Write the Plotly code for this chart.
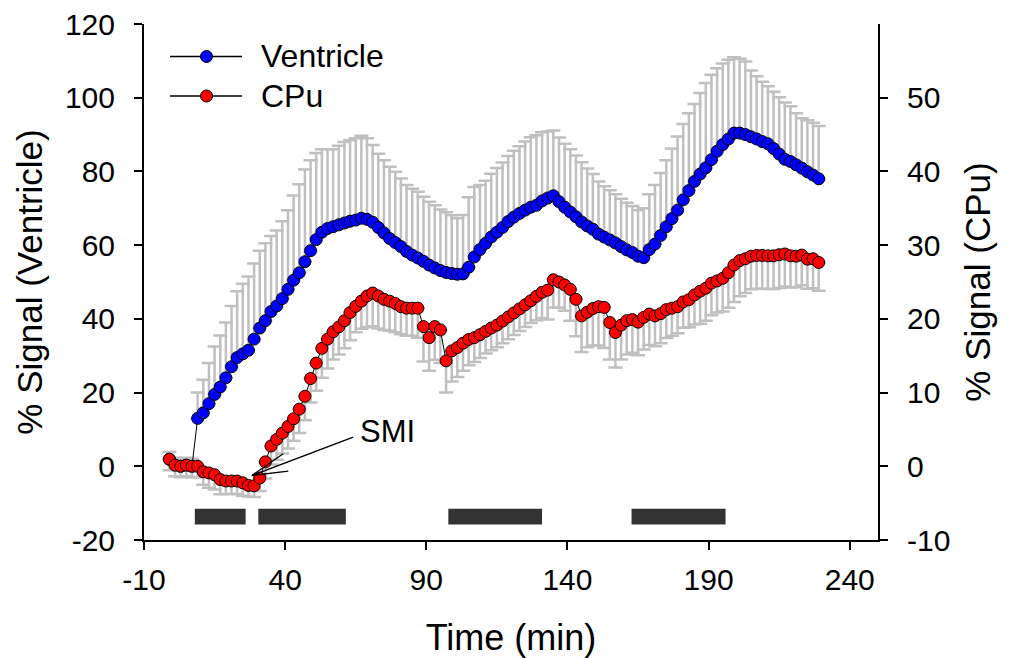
import plotly.graph_objects as go

# ---------------- data ----------------
time_min = [
    -1, 1, 3, 5, 7, 9, 11, 13, 15, 17,
    19, 21, 23, 25, 27, 29, 31, 33, 35, 37,
    39, 41, 43, 45, 47, 49, 51, 53, 55, 57,
    59, 61, 63, 65, 67, 69, 71, 73, 75, 77,
    79, 81, 83, 85, 87, 89, 91, 93, 95, 97,
    99, 101, 103, 105, 107, 109, 111, 113, 115, 117,
    119, 121, 123, 125, 127, 129, 131, 133, 135, 137,
    139, 141, 143, 145, 147, 149, 151, 153, 155, 157,
    159, 161, 163, 165, 167, 169, 171, 173, 175, 177,
    179, 181, 183, 185, 187, 189, 191, 193, 195, 197,
    199, 201, 203, 205, 207, 209, 211, 213, 215, 217,
    219, 221, 223, 225, 227, 229,
]

ventricle = [
    1.9, 0.3, 0, 0.3, 0, 13, 14.5, 17, 19.5, 21.5,
    24, 27, 29.5, 30.5, 31.5, 34.5, 37.5, 39.5, 42, 43.5,
    45.5, 48, 50.5, 52.5, 55.5, 58.5, 61.5, 63.5, 64.5, 65,
    65.5, 66, 66.5, 66.8, 67.3, 67, 66.2, 64.8, 63.3, 61.8,
    60.7, 59.6, 58.3, 57.3, 56.5, 55.6, 54.6, 53.8, 53.1, 52.6,
    52.3, 52.1, 52.2, 54, 56.8, 58.8, 60.5, 62.2, 63.5, 64.8,
    66.4, 67.6, 68.6, 69.5, 70.3, 70.8, 72, 72.8, 73.4, 71.8,
    70.3, 69, 67.7, 66.3, 65.2, 64.3, 63, 62.2, 61.4, 60.6,
    59.6, 58.7, 58, 57, 56.6, 58.8, 60.3, 62.6, 65, 67.2,
    69.5, 72.3, 74.8, 77.3, 79.3, 81, 83.2, 85.5, 87.3, 88.8,
    90.4, 90.4, 90, 89.4, 88.8, 88.1, 87.5, 86.2, 84.7, 83.3,
    82.7, 81.8, 80.9, 79.9, 79, 78,
]

ventricle_err = [
    2, 2, 2, 2, 2, 7, 9, 11, 13, 14,
    15, 16.5, 18, 19, 20, 20.5, 21, 21, 20.5, 20.5,
    21, 21.5, 23, 24, 25, 24.5, 23.5, 22.5, 21.5, 21,
    21.5, 22, 22, 22.2, 22.4, 22, 21, 20, 19.7, 19.5,
    19.2, 18.5, 18, 18, 18, 17.5, 17.2, 17, 16.6, 16.3,
    15.8, 15.2, 16, 19, 19, 17.5, 17, 17.2, 17.4, 17.6,
    17.8, 18, 18.2, 18.6, 19, 19, 18.6, 18, 17.7, 17.4,
    17.2, 17, 16.6, 16.2, 15.6, 15, 14.3, 13.8, 13.5, 13.2,
    13, 12.8, 12.6, 12.5, 13.4, 15, 16, 17, 18, 19,
    20, 20.6, 21, 21, 22, 23, 23, 22.5, 22, 21.5,
    20.6, 20.2, 19.8, 18, 17, 16.2, 15.6, 15.4, 15.4, 15.4,
    15, 14, 13.5, 14, 14.2, 14.3,
]

cpu = [
    0.95, 0.15, 0, 0.15, 0, 0, -0.75, -0.9, -1.15, -1.8,
    -2, -2, -2, -2.25, -2.6, -2.65, -1.6, 0.6, 2.75, 3.65,
    4.5, 5.4, 6.45, 7.75, 9.5, 11.9, 14, 16, 17.25, 18.25,
    18.9, 19.75, 20.85, 21.7, 22.4, 23.1, 23.5, 23.1, 22.65, 22.4,
    22.1, 21.65, 21.45, 21.45, 21.45, 18.95, 17.45, 18.95, 18.5, 14.3,
    15.65, 16.1, 16.7, 17.2, 17.45, 17.85, 18.3, 18.75, 19.15, 19.7,
    20.25, 20.8, 21.35, 21.9, 22.45, 23.05, 23.6, 23.9, 25.3, 25,
    24.6, 24, 22.65, 20.4, 20.9, 21.4, 21.65, 21.55, 19.5, 18.15,
    19.15, 19.75, 19.9, 19.55, 20.2, 20.65, 20.4, 20.7, 21.25, 21.45,
    21.65, 22.3, 22.6, 23.25, 23.75, 24.15, 24.85, 25.15, 25.5, 26.25,
    27.3, 27.9, 28.15, 28.5, 28.6, 28.6, 28.55, 28.55, 28.7, 28.8,
    28.55, 28.5, 28.65, 28.1, 28.15, 27.65,
]

cpu_err = [
    1.5, 1.5, 1.5, 1.5, 1.5, 1.5, 1.75, 2, 2, 2,
    1.75, 1.75, 1.75, 1.75, 1.5, 1.5, 1.75, 2.25, 2.5, 2.75,
    2.75, 3, 3, 3.25, 3.25, 3.25, 3.75, 4, 4, 3.75,
    3.75, 3.75, 3.75, 3.5, 3.75, 4.25, 4.5, 4.4, 4.15, 4,
    3.9, 3.75, 3.75, 3.75, 4, 4.75, 4.5, 4.5, 4.5, 4.3,
    4.15, 4, 3.75, 3.5, 3.3, 3.15, 3, 3, 3, 3,
    3, 3, 3, 3, 3, 3.25, 3.5, 4, 3.75, 3.5,
    3.5, 4.25, 5, 4.9, 4.75, 5, 5.25, 5.5, 5, 4.75,
    4.65, 4.6, 4.5, 4.5, 4.35, 4.2, 4.1, 4, 3.85, 3.75,
    3.6, 3.5, 3.75, 4, 4.4, 4.4, 4.35, 4.3, 4.5, 4.75,
    5, 4.85, 4.65, 4.5, 4.5, 4.5, 4.5, 4.5, 4.5, 4.4,
    4.3, 4.2, 4.1, 4, 4, 3.85,
]

x_ticks = [-10, 40, 90, 140, 190, 240]
x_tick_labels = ["-10", "40", "90", "140", "190", "240"]
y_left_ticks = [-20, 0, 20, 40, 60, 80, 100, 120]
y_left_labels = ["-20", "0", "20", "40", "60", "80", "100", "120"]
y_right_ticks = [-10, 0, 10, 20, 30, 40, 50]
y_right_labels = ["-10", "0", "10", "20", "30", "40", "50"]

# stimulus periods (min)
stim_start = [8, 30.5, 97.8, 162.7]
stim_end = [26, 61.5, 131, 196]

series_names = ["Ventricle", "CPu"]
series_colors = ["#0000FF", "#FF0000"]

assert len(time_min) == len(ventricle) == len(ventricle_err) == len(cpu) == len(cpu_err)

FONT = "Liberation Sans, Arial, sans-serif"
ERR_COLOR = "#C0C0C0"

fig = go.Figure()

zeros = [0] * len(time_min)

fig.add_trace(go.Scatter(
    x=time_min, y=ventricle, name=series_names[0], mode="lines+markers",
    line=dict(color="black", width=1),
    marker=dict(size=12, color=series_colors[0], line=dict(color="black", width=1)),
    error_y=dict(type="data", symmetric=False, array=ventricle_err, arrayminus=zeros,
                 color=ERR_COLOR, thickness=2.5, width=7),
    showlegend=False,
))

fig.add_trace(go.Scatter(
    x=time_min, y=cpu, name=series_names[1], mode="lines+markers", yaxis="y2",
    line=dict(color="black", width=1),
    marker=dict(size=12, color=series_colors[1], line=dict(color="black", width=1)),
    error_y=dict(type="data", symmetric=False, array=zeros, arrayminus=cpu_err,
                 color=ERR_COLOR, thickness=2.5, width=7),
    showlegend=False,
))

shapes = []
for s, e in zip(stim_start, stim_end):
    shapes.append(dict(type="rect", xref="x", yref="y", x0=s, x1=e, y0=-15.8, y1=-11.5,
                       fillcolor="#333333", line=dict(width=0), layer="above"))

# SMI arrow (tip, tail, barbs)
tip = (28.2, -2.5)
for end in [(64.1, 7.9), (39.3, 3.4), (41.1, -1.3)]:
    shapes.append(dict(type="line", xref="x", yref="y", x0=end[0], y0=end[1],
                       x1=tip[0], y1=tip[1], line=dict(color="black", width=1.3)))

# custom legend
W, H, L, B = 734.0, 516.0, 144.0, 540.0
def px(xp):
    return (xp - L) / W
def py(yp):
    return (B - yp) / H

legend_y = [56.5, 96]
annotations = []
for name, color, ly in zip(series_names, series_colors, legend_y):
    shapes.append(dict(type="line", xref="paper", yref="paper", x0=px(170), x1=px(242),
                       y0=py(ly), y1=py(ly), line=dict(color="black", width=1.3)))
    shapes.append(dict(type="circle", xref="paper", yref="paper",
                       xsizemode="pixel", ysizemode="pixel",
                       xanchor=px(206.5), yanchor=py(ly), x0=-6, x1=6, y0=-6, y1=6,
                       fillcolor=color, line=dict(color="black", width=1)))
    annotations.append(dict(text=name, xref="paper", yref="paper", x=px(259), y=py(ly - 0.5),
                            xanchor="left", yanchor="middle", showarrow=False,
                            font=dict(family=FONT, size=32, color="black")))

annotations.append(dict(text="SMI", xref="x", yref="y", x=76.2, y=9.5, xanchor="center",
                        yanchor="middle", showarrow=False,
                        font=dict(family=FONT, size=31, color="black")))

axis_common = dict(showgrid=False, zeroline=False, showline=True, linecolor="black",
                   linewidth=2, ticks="outside", ticklen=8, tickwidth=2, tickcolor="black",
                   automargin=False,
                   tickfont=dict(family=FONT, size=30, color="black"))

fig.update_layout(
    width=1013, height=658,
    margin=dict(l=144, r=135, t=24, b=118, autoexpand=False),
    paper_bgcolor="white", plot_bgcolor="white",
    font=dict(family=FONT, color="black"),
    xaxis=dict(range=[-10, 250], tickvals=x_ticks, ticktext=x_tick_labels, ticklabelstandoff=4,
               title=dict(text="Time (min)", font=dict(family=FONT, size=36), standoff=32),
               **axis_common),
    yaxis=dict(range=[-20, 120], tickvals=y_left_ticks, ticktext=y_left_labels,
               ticklabelstandoff=13,
               title=dict(text="% Signal (Ventricle)", font=dict(family=FONT, size=35), standoff=12),
               **axis_common),
    yaxis2=dict(range=[-10, 60], tickvals=y_right_ticks, ticktext=y_right_labels,
                overlaying="y", side="right", ticklabelstandoff=13,
                title=dict(text="% Signal (CPu)", font=dict(family=FONT, size=35), standoff=16),
                **axis_common),
    shapes=shapes,
    annotations=annotations,
    showlegend=False,
)

fig.write_html("out.html")
